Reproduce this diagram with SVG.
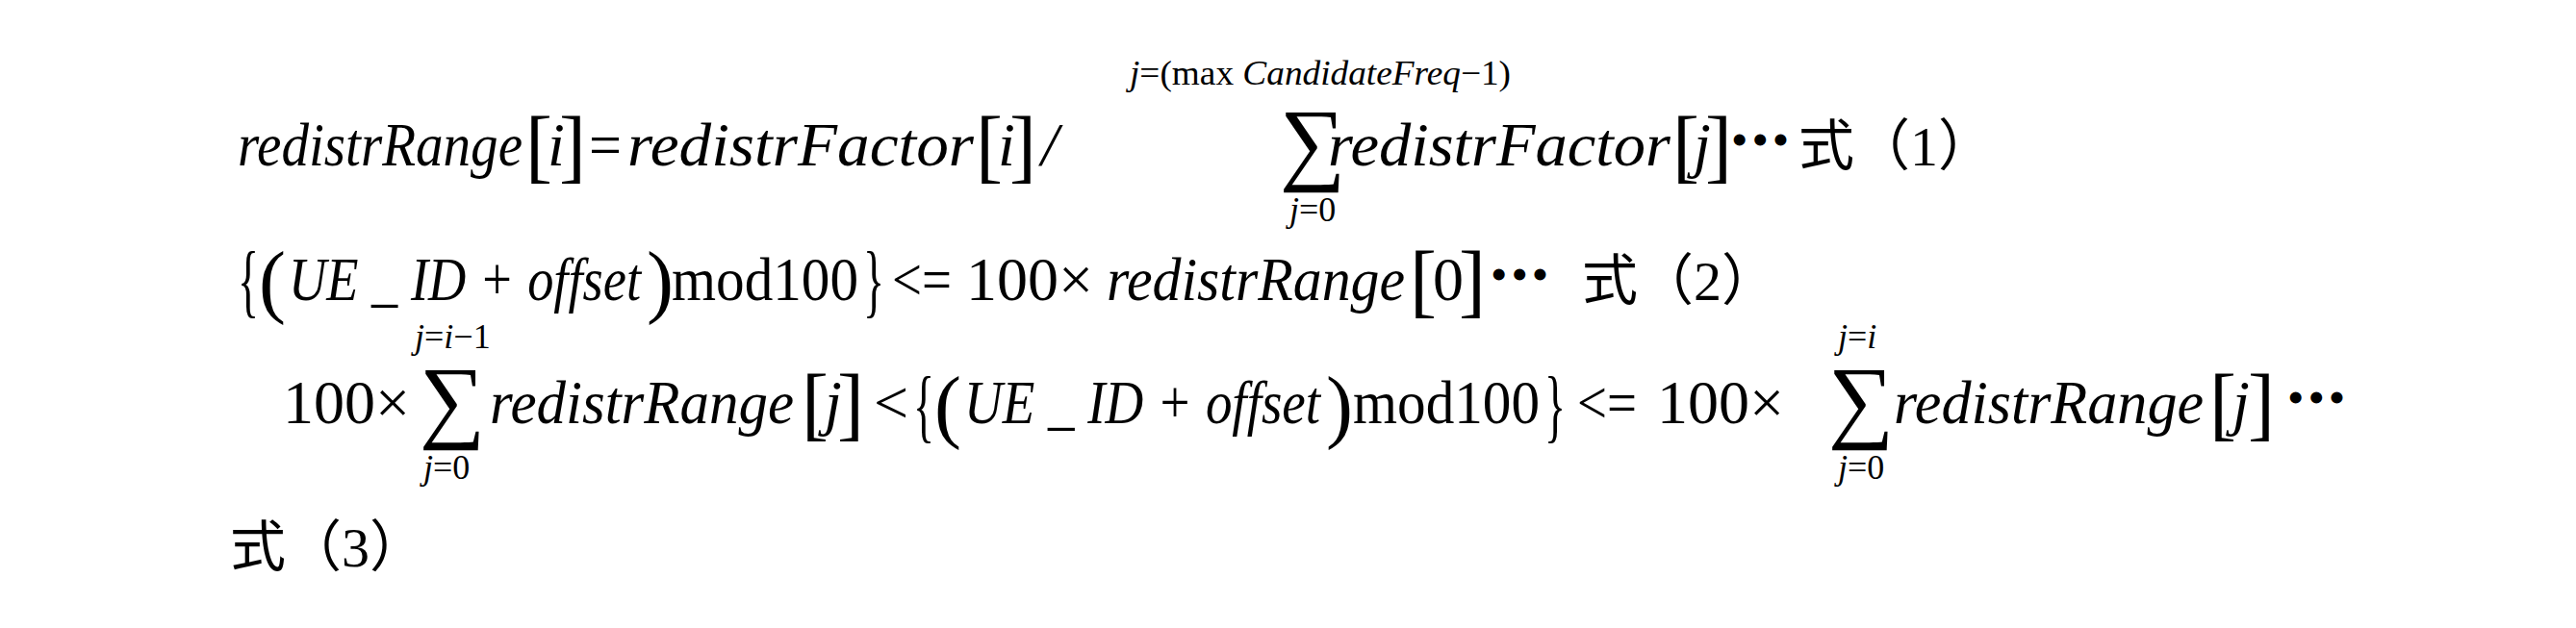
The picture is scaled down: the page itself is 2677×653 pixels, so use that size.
<svg xmlns="http://www.w3.org/2000/svg" width="2677" height="653" viewBox="0 0 2677 653">
<style>
text{fill:#000}
.v{font-family:"Liberation Serif",serif;font-style:italic;font-size:64px}
.n{font-family:"Liberation Serif",serif;font-size:64px}
.b{font-family:"Liberation Serif",serif;font-size:84px}
.s{font-family:"Liberation Serif",serif;font-style:italic;font-size:36px}
.sn{font-family:"Liberation Serif",serif;font-size:36px}
.S{font-family:"Liberation Serif",serif;font-size:96px}
.d{font-family:"Liberation Serif",serif;font-size:44px;font-weight:bold;letter-spacing:6px}
.k{font-family:"Liberation Serif","Noto Sans CJK JP",sans-serif;font-size:58px}
</style>
<rect width="2677" height="653" fill="#fff"/>
<g id="eq1">
<text class="v" x="247" y="172" textLength="296" lengthAdjust="spacingAndGlyphs">redistrRange</text>
<text class="b" x="546" y="180">[</text><text class="v" x="569" y="172">i</text><text class="b" x="581" y="180">]</text>
<text class="n" x="612" y="172" textLength="34" lengthAdjust="spacingAndGlyphs">=</text>
<text class="v" x="652" y="172" textLength="360" lengthAdjust="spacingAndGlyphs">redistrFactor</text>
<text class="b" x="1014" y="180">[</text><text class="v" x="1037" y="172">i</text><text class="b" x="1049" y="180">]</text>
<text class="v" x="1082" y="172">/</text>
<text x="1174" y="88" textLength="396" lengthAdjust="spacingAndGlyphs"><tspan class="s">j</tspan><tspan class="sn">=(max</tspan><tspan class="s"> CandidateFreq</tspan><tspan class="sn">−1)</tspan></text>
<text class="S" x="1330" y="180">∑</text>
<text x="1340" y="230"><tspan class="s">j</tspan><tspan class="sn">=0</tspan></text>
<text class="v" x="1380" y="172" textLength="356" lengthAdjust="spacingAndGlyphs">redistrFactor</text>
<text class="b" x="1738" y="180">[</text><text class="v" x="1760" y="172">j</text><text class="b" x="1772" y="180">]</text>
<text class="d" x="1800" y="160">•••</text>
<text class="k" x="1869" y="172">式（1）</text>
</g>
<g id="eq2">
<text class="b" x="247" y="320" textLength="22" lengthAdjust="spacingAndGlyphs">{</text><text class="b" x="269" y="320">(</text>
<text class="v" x="300" y="312" textLength="366" lengthAdjust="spacingAndGlyphs">UE _ ID + offset</text>
<text class="b" x="672" y="320">)</text>
<text class="n" x="698" y="312" textLength="194" lengthAdjust="spacingAndGlyphs">mod100</text>
<text class="b" x="897" y="320" textLength="22" lengthAdjust="spacingAndGlyphs">}</text>
<text class="n" x="927" y="312" textLength="62" lengthAdjust="spacingAndGlyphs">&lt;=</text>
<text class="n" x="1004" y="312">100×</text>
<text class="v" x="1150" y="312" textLength="310" lengthAdjust="spacingAndGlyphs">redistrRange</text>
<text class="b" x="1465" y="320">[</text><text class="n" x="1489" y="312">0</text><text class="b" x="1516" y="320">]</text>
<text class="d" x="1550" y="300">•••</text>
<text class="k" x="1644" y="312">式（2）</text>
</g>
<g id="eq3">
<text class="n" x="294" y="440">100×</text>
<text x="431" y="362"><tspan class="s">j</tspan><tspan class="sn">=</tspan><tspan class="s">i</tspan><tspan class="sn">−1</tspan></text>
<text class="S" x="436" y="448">∑</text>
<text x="440" y="498"><tspan class="s">j</tspan><tspan class="sn">=0</tspan></text>
<text class="v" x="509" y="440" textLength="316" lengthAdjust="spacingAndGlyphs">redistrRange</text>
<text class="b" x="833" y="448">[</text><text class="v" x="857" y="440">j</text><text class="b" x="870" y="448">]</text>
<text class="n" x="908" y="440">&lt;</text>
<text class="b" x="949" y="450" textLength="22" lengthAdjust="spacingAndGlyphs">{</text><text class="b" x="971" y="450">(</text>
<text class="v" x="1002" y="440" textLength="370" lengthAdjust="spacingAndGlyphs">UE _ ID + offset</text>
<text class="b" x="1378" y="450">)</text>
<text class="n" x="1406" y="440" textLength="194" lengthAdjust="spacingAndGlyphs">mod100</text>
<text class="b" x="1605" y="450" textLength="22" lengthAdjust="spacingAndGlyphs">}</text>
<text class="n" x="1639" y="440" textLength="62" lengthAdjust="spacingAndGlyphs">&lt;=</text>
<text class="n" x="1722" y="440">100×</text>
<text x="1910" y="362"><tspan class="s">j</tspan><tspan class="sn">=</tspan><tspan class="s">i</tspan></text>
<text class="S" x="1900" y="448">∑</text>
<text x="1910" y="498"><tspan class="s">j</tspan><tspan class="sn">=0</tspan></text>
<text class="v" x="1968" y="440" textLength="322" lengthAdjust="spacingAndGlyphs">redistrRange</text>
<text class="b" x="2296" y="448">[</text><text class="v" x="2320" y="440">j</text><text class="b" x="2336" y="448">]</text>
<text class="d" x="2378" y="428">•••</text>
<text class="k" x="239" y="589">式（3）</text>
</g>
</svg>
